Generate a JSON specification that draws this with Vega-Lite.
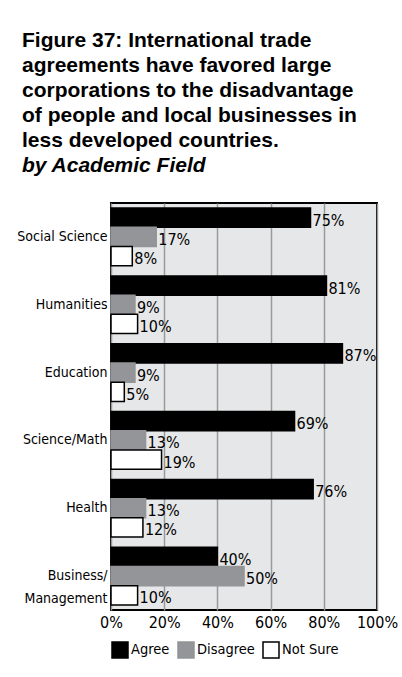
{
  "$schema": "https://vega.github.io/schema/vega-lite/v6.json",
  "width": 266,
  "height": 407,
  "autosize": {"type": "none"},
  "padding": {"left": 111, "top": 203, "right": 25, "bottom": 67},
  "background": "white",
  "title": {
    "text": ["Figure 37: International trade", "agreements have favored large", "corporations to the disadvantage", "of people and local businesses in", "less developed countries."],
    "subtitle": "by Academic Field",
    "anchor": "start",
    "frame": "group",
    "dx": -89,
    "offset": 27,
    "font": "Liberation Sans",
    "fontSize": 21,
    "fontWeight": "bold",
    "lineHeight": 25,
    "color": "black",
    "subtitleFont": "Liberation Sans",
    "subtitleFontSize": 21,
    "subtitleFontWeight": "bold",
    "subtitleFontStyle": "italic",
    "subtitleColor": "black",
    "subtitleLineHeight": 25,
    "subtitlePadding": 4
  },
  "data": {
    "values": [
      {"field": "Social Science", "response": "Agree", "value": 0.75},
      {"field": "Social Science", "response": "Disagree", "value": 0.17},
      {"field": "Social Science", "response": "Not Sure", "value": 0.08},
      {"field": "Humanities", "response": "Agree", "value": 0.81},
      {"field": "Humanities", "response": "Disagree", "value": 0.09},
      {"field": "Humanities", "response": "Not Sure", "value": 0.10},
      {"field": "Education", "response": "Agree", "value": 0.87},
      {"field": "Education", "response": "Disagree", "value": 0.09},
      {"field": "Education", "response": "Not Sure", "value": 0.05},
      {"field": "Science/Math", "response": "Agree", "value": 0.69},
      {"field": "Science/Math", "response": "Disagree", "value": 0.13},
      {"field": "Science/Math", "response": "Not Sure", "value": 0.19},
      {"field": "Health", "response": "Agree", "value": 0.76},
      {"field": "Health", "response": "Disagree", "value": 0.13},
      {"field": "Health", "response": "Not Sure", "value": 0.12},
      {"field": "Business/Management", "response": "Agree", "value": 0.40},
      {"field": "Business/Management", "response": "Disagree", "value": 0.50},
      {"field": "Business/Management", "response": "Not Sure", "value": 0.10}
    ]
  },
  "encoding": {
    "y": {
      "field": "field",
      "type": "nominal",
      "sort": null,
      "title": null,
      "scale": {"paddingInner": 0.15, "paddingOuter": 0.075},
      "axis": {
        "labelExpr": "datum.value == 'Business/Management' ? ['Business/', 'Management'] : datum.value",
        "labelFont": "DejaVu Sans Condensed",
        "labelFontSize": 14,
        "labelColor": "black",
        "labelPadding": 4,
        "labelLineHeight": 23,
        "ticks": false,
        "domain": false
      }
    },
    "yOffset": {"field": "response", "type": "nominal", "sort": ["Agree", "Disagree", "Not Sure"]},
    "x": {
      "field": "value",
      "type": "quantitative",
      "title": null,
      "scale": {"domain": [0, 1]},
      "axis": {
        "format": ".0%",
        "values": [0, 0.2, 0.4, 0.6, 0.8, 1],
        "labelFont": "DejaVu Sans Condensed",
        "labelFontSize": 16,
        "labelColor": "black",
        "labelPadding": 4,
        "labelOverlap": false,
        "labelFlush": false,
        "labelBound": false,
        "ticks": false,
        "domain": false,
        "grid": true,
        "gridColor": "#9a9a9a",
        "gridWidth": 1.5
      }
    }
  },
  "layer": [
    {
      "mark": {"type": "bar", "strokeWidth": 1.5},
      "encoding": {
        "color": {
          "field": "response",
          "type": "nominal",
          "sort": ["Agree", "Disagree", "Not Sure"],
          "scale": {"domain": ["Agree", "Disagree", "Not Sure"], "range": ["#000000", "#939598", "#ffffff"]},
          "legend": {
            "orient": "bottom",
            "direction": "horizontal",
            "title": null,
            "symbolType": "square",
            "symbolSize": 256,
            "symbolStrokeColor": "black",
            "symbolStrokeWidth": 1.5,
            "symbolOpacity": 1,
            "labelFont": "DejaVu Sans Condensed",
            "labelFontSize": 14.5,
            "labelColor": "black",
            "labelOffset": 2,
            "columnPadding": 5,
            "offset": 11
          }
        },
        "stroke": {
          "field": "response",
          "type": "nominal",
          "scale": {"domain": ["Agree", "Disagree", "Not Sure"], "range": ["#000000", "#939598", "#000000"]},
          "legend": null
        }
      }
    },
    {
      "mark": {"type": "text", "align": "left", "baseline": "alphabetic", "dx": 2, "dy": 8, "font": "DejaVu Sans Condensed", "fontSize": 16, "color": "black"},
      "encoding": {
        "text": {"field": "value", "type": "quantitative", "format": ".0%"}
      }
    }
  ],
  "config": {
    "view": {"fill": "#e6e7e8", "stroke": "black", "strokeWidth": 2}
  }
}
